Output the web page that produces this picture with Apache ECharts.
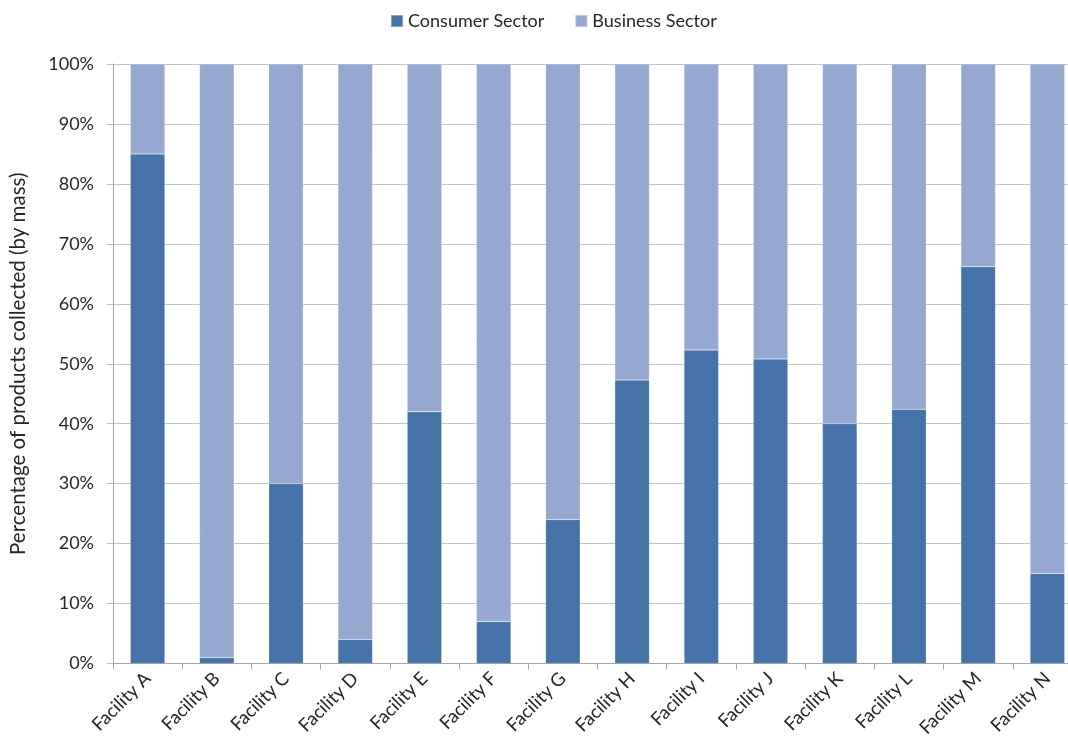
<!DOCTYPE html>
<html>
<head>
<meta charset="utf-8">
<script src="https://cdn.jsdelivr.net/npm/echarts@6/dist/echarts.min.js"></script>
<style>
  html, body { margin: 0; padding: 0; background: #fff; overflow: hidden; }
  /* canvas is a little wider than the window so the last category runs off the right edge */
  #chart { width: 1082px; height: 744px; }
</style>
</head>
<body>
<div id="chart"></div>
<script>
// Share of collected products by sector at each facility (percent by mass)
const facilities = ['Facility A', 'Facility B', 'Facility C', 'Facility D', 'Facility E', 'Facility F', 'Facility G',
  'Facility H', 'Facility I', 'Facility J', 'Facility K', 'Facility L', 'Facility M', 'Facility N'];
const consumerSector = [85, 1, 30, 4, 42, 7, 24, 47.3, 52.3, 50.8, 40, 42.4, 66.2, 15];
const businessSector = [15, 99, 70, 96, 58, 93, 76, 52.7, 47.7, 49.2, 60, 57.6, 33.8, 85];
const yTicks = [0, 10, 20, 30, 40, 50, 60, 70, 80, 90, 100];

const FONT = 'Lato, "Open Sans", sans-serif';
const TEXT = '#262626';
const chart = echarts.init(document.getElementById('chart'));

chart.setOption({
  animation: false,
  textStyle: { fontFamily: FONT },
  legend: {
    top: 7,
    left: 385,
    itemWidth: 12,
    itemHeight: 12,
    itemGap: 30,
    icon: 'rect',
    textStyle: { fontSize: 18, color: TEXT, fontFamily: FONT },
    data: ['Consumer Sector', 'Business Sector']
  },
  grid: { left: 112, top: 64, width: 970, height: 599.5, containLabel: false },
  xAxis: {
    type: 'category',
    data: facilities,
    axisLine: { lineStyle: { color: '#a6a6a6', width: 1 } },
    axisTick: { show: true, length: 6, lineStyle: { color: '#a6a6a6' } },
    axisLabel: {
      rotate: 45,
      fontSize: 18.5,
      color: TEXT,
      margin: 12,
      fontFamily: FONT
    }
  },
  yAxis: {
    type: 'value',
    min: yTicks[0],
    max: yTicks[yTicks.length - 1],
    interval: 10,
    name: 'Percentage of products collected (by mass)',
    nameLocation: 'middle',
    nameGap: 84,
    nameTextStyle: { fontSize: 20.5, color: TEXT, fontFamily: FONT },
    axisLine: { show: true, lineStyle: { color: '#a6a6a6' } },
    axisTick: { show: true, length: 6, lineStyle: { color: '#bfbfbf' } },
    splitLine: { lineStyle: { color: '#c4c4c4', width: 1.2 } },
    axisLabel: {
      fontSize: 18,
      color: TEXT,
      margin: 19,
      fontFamily: FONT,
      formatter: v => v + '%'
    }
  },
  series: [
    {
      name: 'Consumer Sector',
      type: 'bar',
      stack: 'share',
      barWidth: '50%',
      itemStyle: { color: '#4573a7', borderColor: 'rgba(255,255,255,0.35)', borderWidth: 0.5 },
      data: consumerSector
    },
    {
      name: 'Business Sector',
      type: 'bar',
      stack: 'share',
      barWidth: '50%',
      itemStyle: { color: '#95a9d0', borderColor: 'rgba(255,255,255,0.35)', borderWidth: 0.5 },
      data: businessSector
    }
  ]
});
</script>
</body>
</html>
